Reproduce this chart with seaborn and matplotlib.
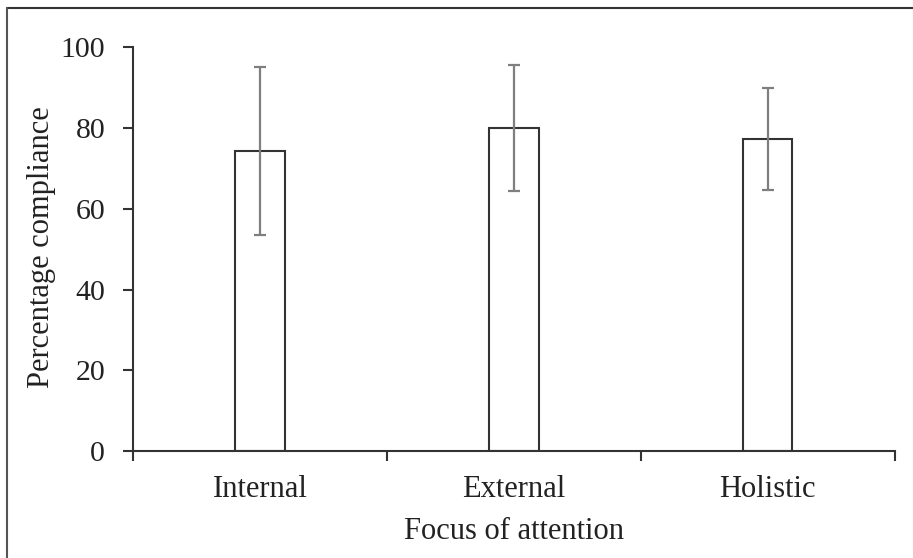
import matplotlib
matplotlib.use('Agg')
import matplotlib.pyplot as plt
import pandas as pd
import seaborn as sns
from matplotlib.lines import Line2D

# data
focus = ['Internal', 'External', 'Holistic']
compliance = [74.4, 80.1, 77.3]
sd = [20.8, 15.6, 12.7]

sns.set_theme(style='white')
plt.rcParams['font.family'] = ['Liberation Serif', 'DejaVu Serif']

df = pd.DataFrame({'focus': focus, 'compliance': compliance})

fig = plt.figure(figsize=(9.13, 5.58), dpi=100)
ax = fig.add_axes([0.1457, 0.1918, 0.98 - 0.1457, 0.9149 - 0.1918])

sns.barplot(data=df, x='focus', y='compliance', ax=ax, width=0.194,
            color='white', edgecolor='#333333', linewidth=1.5, errorbar=None)

# error bars centred on the seaborn bars
xs = [p.get_x() + p.get_width() / 2 for p in ax.patches]
ax.errorbar(xs, compliance, yerr=sd, fmt='none', ecolor='#7f7f7f',
            elinewidth=1.6, capsize=4.5, capthick=1.6)

ax.set_ylim(0, 100)
ax.set_xlim(-0.5, 2.5)
ax.set_yticks(range(0, 101, 20))

# excel-like: ticks between categories, labels on categories
ax.set_xticks([-0.5, 0.5, 1.5, 2.5])
ax.set_xticklabels([])
ax.set_xticks([0, 1, 2], minor=True)
ax.set_xticklabels(focus, minor=True)
ax.tick_params(axis='x', which='minor', length=0, pad=17, labelsize=22, colors='#222222')
ax.tick_params(axis='x', which='major', direction='out', length=7, width=1.5,
               color='#333333', bottom=True)
ax.tick_params(axis='y', direction='out', length=7, width=1.5, color='#333333',
               left=True, pad=13, labelsize=21.5, labelcolor='#222222')

for s in ['top', 'right']:
    ax.spines[s].set_visible(False)
for s in ['left', 'bottom']:
    ax.spines[s].set_color('#333333')
    ax.spines[s].set_linewidth(1.5)

ax.set_xlabel('Focus of attention', fontsize=22, color='#222222', labelpad=10)
ax.set_ylabel('')
fig.text(42 / 913, 0.5565, 'Percentage compliance', rotation=90, ha='center',
         va='center', fontsize=22, color='#222222')

# frame lines on the top and left of the figure
fig.add_artist(Line2D([7 / 913, 1], [1 - 8 / 558, 1 - 8 / 558], color='#333333', lw=1.5,
                      transform=fig.transFigure))
fig.add_artist(Line2D([7 / 913, 7 / 913], [0, 1 - 8 / 558], color='#555555', lw=1.5,
                      transform=fig.transFigure))

fig.savefig('out.png', dpi=100)
